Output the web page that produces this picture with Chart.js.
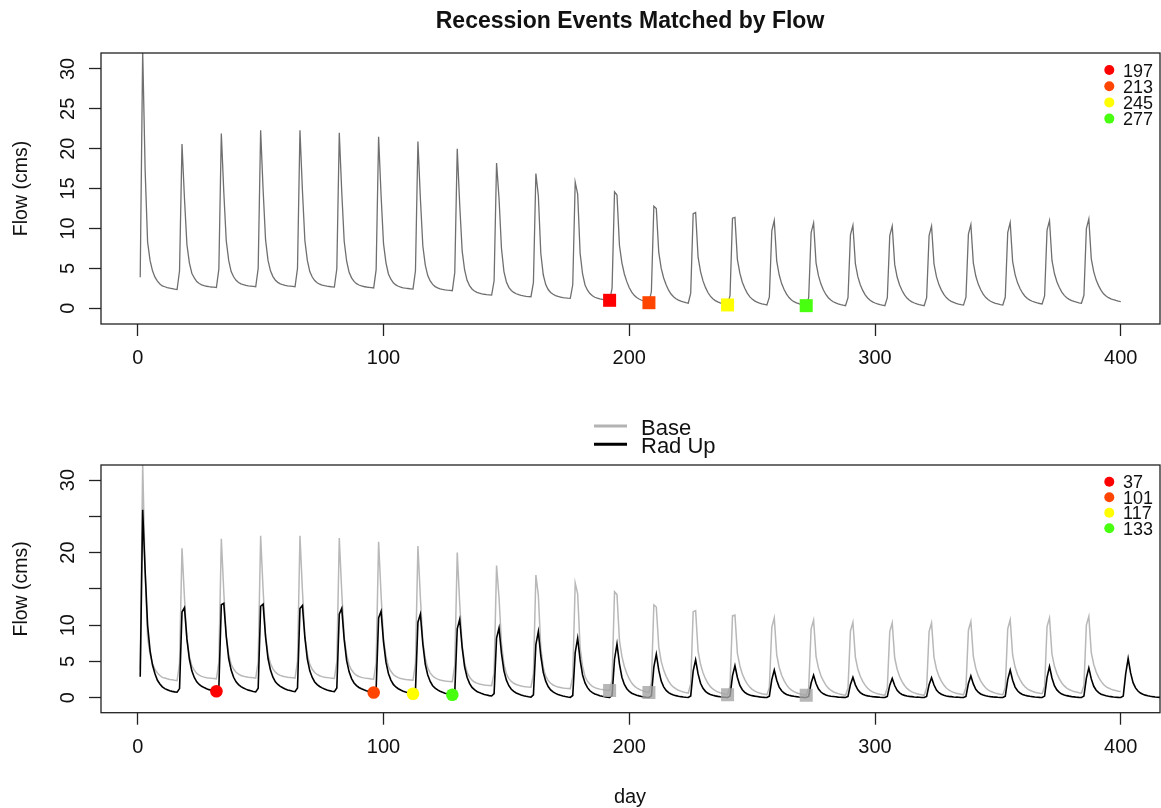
<!DOCTYPE html>
<html lang="en">
<head>
<meta charset="utf-8">
<title>Recession Events Matched by Flow</title>
<script src="https://cdn.jsdelivr.net/npm/chart.js"></script>
<style>
  html, body { margin: 0; padding: 0; background: #fff; }
  #wrap { position: relative; width: 1161px; height: 808px; overflow: hidden; }
  canvas { position: absolute; left: 0; }
  #topChart { top: 0; }
  #bottomChart { top: 400px; }
</style>
</head>
<body>
<div id="wrap">
  <canvas id="topChart" width="1161" height="400"></canvas>
  <canvas id="bottomChart" width="1161" height="408"></canvas>
</div>
<script>
// daily flow (cms), base run, day 1..400 -- one row per 16-day cycle
const baseFlow = [
  3.9, 32.3, 17.3, 8.3, 6.0, 4.7, 3.9, 3.4, 3.05, 2.8, 2.7, 2.6, 2.52, 2.46, 2.4, 2.35,
  4.7, 20.6, 13.8, 8.0, 5.7, 4.4, 3.8, 3.35, 3.1, 2.94, 2.83, 2.76, 2.71, 2.67, 2.64, 2.6,
  4.9, 21.9, 14.6, 8.5, 6.0, 4.6, 3.95, 3.51, 3.24, 3.06, 2.95, 2.87, 2.82, 2.78, 2.74, 2.7,
  5.0, 22.3, 14.9, 8.6, 6.0, 4.7, 3.97, 3.52, 3.25, 3.07, 2.95, 2.88, 2.82, 2.78, 2.74, 2.7,
  5.0, 22.3, 14.8, 8.5, 6.0, 4.6, 3.92, 3.47, 3.2, 3.02, 2.9, 2.83, 2.77, 2.73, 2.69, 2.65,
  4.95, 22.0, 14.6, 8.4, 5.9, 4.5, 3.81, 3.37, 3.09, 2.92, 2.8, 2.73, 2.67, 2.63, 2.59, 2.55,
  4.85, 21.5, 14.2, 8.1, 5.7, 4.3, 3.64, 3.2, 2.93, 2.76, 2.65, 2.57, 2.52, 2.48, 2.44, 2.4,
  4.7, 20.9, 13.8, 7.8, 5.4, 4.1, 3.42, 2.99, 2.72, 2.56, 2.44, 2.37, 2.31, 2.27, 2.24, 2.2,
  4.5, 20.0, 13.0, 7.2, 4.8, 3.5, 2.84, 2.42, 2.16, 2.0, 1.89, 1.82, 1.76, 1.72, 1.69, 1.65,
  3.45, 18.2, 13.8, 7.5, 4.6, 3.3, 2.62, 2.24, 1.99, 1.82, 1.7, 1.62, 1.55, 1.5, 1.47, 1.45,
  3.25, 16.9, 14.1, 6.9, 4.2, 2.97, 2.35, 1.99, 1.75, 1.59, 1.48, 1.41, 1.34, 1.3, 1.27, 1.25,
  2.95, 15.8, 14.3, 6.9, 4.3, 2.92, 2.26, 1.84, 1.56, 1.38, 1.27, 1.18, 1.12, 1.06, 1.03, 1.0,
  2.5, 14.6, 14.2, 7.9, 5.7, 4.3, 3.34, 2.58, 2.02, 1.63, 1.35, 1.16, 1.01, 0.88, 0.78, 0.7,
  2.1, 12.8, 12.5, 7.0, 5.0, 3.8, 2.94, 2.27, 1.79, 1.45, 1.2, 1.03, 0.9, 0.79, 0.7, 0.63,
  1.9, 11.85, 12.0, 6.4, 4.6, 3.43, 2.62, 1.98, 1.52, 1.2, 0.96, 0.8, 0.67, 0.57, 0.49, 0.42,
  1.6, 11.3, 11.4, 6.1, 4.4, 3.27, 2.5, 1.9, 1.46, 1.15, 0.93, 0.77, 0.65, 0.55, 0.48, 0.41,
  1.4, 9.7, 11.0, 5.9, 4.2, 3.1, 2.36, 1.77, 1.34, 1.05, 0.83, 0.68, 0.57, 0.47, 0.39, 0.33,
  1.33, 9.5, 10.7, 5.7, 4.06, 3.03, 2.3, 1.73, 1.32, 1.03, 0.82, 0.67, 0.56, 0.47, 0.39, 0.33,
  1.33, 9.2, 10.4, 5.6, 3.96, 2.95, 2.24, 1.69, 1.29, 1.0, 0.8, 0.66, 0.55, 0.46, 0.39, 0.33,
  1.33, 9.1, 10.3, 5.5, 3.92, 2.92, 2.22, 1.68, 1.28, 1.0, 0.8, 0.66, 0.55, 0.46, 0.39, 0.33,
  1.33, 9.1, 10.3, 5.55, 3.96, 2.97, 2.28, 1.74, 1.34, 1.06, 0.87, 0.73, 0.62, 0.53, 0.46, 0.4,
  1.4, 9.3, 10.5, 5.7, 4.04, 3.03, 2.33, 1.77, 1.37, 1.09, 0.88, 0.74, 0.63, 0.54, 0.47, 0.41,
  1.41, 9.5, 10.75, 5.85, 4.22, 3.19, 2.48, 1.92, 1.51, 1.22, 1.02, 0.88, 0.76, 0.67, 0.6, 0.54,
  1.54, 9.8, 11.0, 6.0, 4.36, 3.33, 2.6, 2.03, 1.62, 1.33, 1.12, 0.97, 0.86, 0.77, 0.69, 0.63,
  1.63, 10.0, 11.2, 6.2, 4.57, 3.53, 2.81, 2.24, 1.82, 1.53, 1.33, 1.18, 1.07, 0.98, 0.9, 0.84
];

// daily flow (cms), "Rad Up" run, day 1..420
const radUpFlow = [
  2.9, 25.9, 17.5, 10.0, 6.5, 4.5, 3.3, 2.4, 1.9, 1.5, 1.25, 1.1, 0.95, 0.87, 0.8, 0.75,
  1.25, 11.8, 12.4, 8.1, 5.3, 3.7, 2.78, 2.18, 1.82, 1.57, 1.39, 1.24, 1.11, 1.02, 0.94, 0.88,
  1.4, 12.8, 13.0, 8.5, 5.4, 3.8, 2.81, 2.18, 1.8, 1.53, 1.34, 1.18, 1.04, 0.95, 0.86, 0.8,
  1.3, 12.6, 12.9, 8.4, 5.4, 3.8, 2.82, 2.19, 1.82, 1.55, 1.36, 1.2, 1.07, 0.98, 0.89, 0.83,
  1.33, 12.3, 12.7, 8.3, 5.3, 3.7, 2.79, 2.17, 1.8, 1.54, 1.35, 1.2, 1.07, 0.97, 0.89, 0.83,
  1.33, 11.5, 12.3, 8.0, 5.1, 3.56, 2.63, 2.03, 1.67, 1.41, 1.23, 1.08, 0.95, 0.86, 0.78, 0.72,
  1.2, 11.0, 11.9, 7.7, 4.9, 3.33, 2.42, 1.83, 1.48, 1.23, 1.05, 0.9, 0.78, 0.69, 0.61, 0.55,
  1.0, 10.4, 11.5, 7.4, 4.6, 3.12, 2.23, 1.65, 1.31, 1.07, 0.89, 0.74, 0.62, 0.53, 0.46, 0.4,
  0.8, 9.5, 10.8, 6.9, 4.25, 2.82, 1.97, 1.42, 1.1, 0.86, 0.7, 0.56, 0.44, 0.36, 0.28, 0.23,
  0.55, 8.2, 9.6, 6.1, 3.7, 2.41, 1.65, 1.16, 0.86, 0.65, 0.5, 0.38, 0.27, 0.19, 0.13, 0.08,
  0.4, 7.3, 9.1, 5.75, 3.49, 2.27, 1.54, 1.07, 0.79, 0.59, 0.45, 0.33, 0.23, 0.16, 0.1, 0.05,
  0.3, 6.2, 8.2, 5.2, 3.13, 2.03, 1.38, 0.95, 0.7, 0.52, 0.39, 0.28, 0.19, 0.13, 0.07, 0.03,
  0.28, 5.3, 7.4, 4.66, 2.82, 1.83, 1.24, 0.85, 0.62, 0.46, 0.34, 0.25, 0.17, 0.11, 0.06, 0.02,
  0.25, 4.2, 6.0, 3.79, 2.29, 1.49, 1.01, 0.7, 0.51, 0.38, 0.28, 0.2, 0.14, 0.09, 0.05, 0.02,
  0.24, 3.65, 5.2, 3.28, 1.99, 1.29, 0.87, 0.6, 0.44, 0.33, 0.25, 0.18, 0.12, 0.08, 0.05, 0.02,
  0.22, 3.0, 4.4, 2.78, 1.68, 1.09, 0.74, 0.51, 0.38, 0.28, 0.21, 0.16, 0.11, 0.07, 0.04, 0.02,
  0.2, 2.5, 3.8, 2.4, 1.46, 0.95, 0.64, 0.45, 0.33, 0.25, 0.19, 0.14, 0.1, 0.07, 0.04, 0.02,
  0.18, 2.02, 3.1, 1.96, 1.19, 0.78, 0.53, 0.37, 0.27, 0.2, 0.16, 0.12, 0.08, 0.06, 0.04, 0.02,
  0.17, 1.83, 2.8, 1.77, 1.08, 0.7, 0.48, 0.33, 0.25, 0.19, 0.14, 0.11, 0.08, 0.05, 0.03, 0.02,
  0.17, 1.73, 2.65, 1.68, 1.02, 0.66, 0.45, 0.32, 0.24, 0.18, 0.14, 0.1, 0.07, 0.05, 0.03, 0.02,
  0.17, 1.8, 2.75, 1.74, 1.06, 0.69, 0.47, 0.33, 0.24, 0.18, 0.14, 0.1, 0.07, 0.05, 0.03, 0.02,
  0.18, 1.96, 3.0, 1.9, 1.15, 0.75, 0.51, 0.36, 0.26, 0.2, 0.15, 0.11, 0.08, 0.05, 0.03, 0.02,
  0.2, 2.5, 3.8, 2.4, 1.46, 0.95, 0.64, 0.45, 0.33, 0.25, 0.19, 0.14, 0.1, 0.07, 0.04, 0.02,
  0.22, 2.8, 4.3, 2.72, 1.65, 1.07, 0.73, 0.5, 0.37, 0.28, 0.21, 0.15, 0.11, 0.07, 0.04, 0.02,
  0.22, 2.7, 4.1, 2.59, 1.57, 1.02, 0.69, 0.48, 0.36, 0.27, 0.2, 0.15, 0.1, 0.07, 0.04, 0.02,
  0.22, 3.3, 5.4, 3.41, 2.07, 1.35, 0.92, 0.64, 0.47, 0.35, 0.27, 0.2, 0.14, 0.09, 0.06, 0.04,
  0.04, 0.04, 0.03, 0.03
];

const xTicks = [0, 100, 200, 300, 400];
const yTicks = [0, 5, 10, 15, 20, 25, 30];
const topYLabels = ['0', '5', '10', '15', '20', '25', '30'];
const bottomYLabels = ['0', '5', '10', '', '20', '', '30'];

// matched recession events (day of trough)
const baseEventDays = [192, 208, 240, 272];
const radUpEventDays = [32, 96, 112, 128];
const eventColors = ['#ff0000', '#ff4500', '#ffff00', '#48ff10'];
const topLegendLabels = ['197', '213', '245', '277'];
const bottomLegendLabels = ['37', '101', '117', '133'];
const seriesNames = ['Base', 'Rad Up'];

const FONT = '"Liberation Sans", Arial, Helvetica, sans-serif';
const INK = '#111';

const toPoints = flows => flows.map((v, i) => ({ x: i + 1, y: v }));
const eventPoints = (days, flows) => days.map(d => ({ x: d, y: flows[d - 1] }));

function rotText(ctx, txt, x, y) {
  ctx.save();
  ctx.translate(x, y);
  ctx.rotate(-Math.PI / 2);
  ctx.fillText(txt, 0, 0);
  ctx.restore();
}

// R-like frame, tick labels, axis title and the event legend
const rDecor = {
  id: 'rDecor',
  afterDraw(chart, args, o) {
    const { ctx, chartArea: a } = chart;
    const xs = chart.scales.x, ys = chart.scales.y;
    ctx.save();
    ctx.strokeStyle = '#222';
    ctx.lineWidth = 1.3;
    ctx.strokeRect(a.left, a.top, a.right - a.left, a.bottom - a.top);

    ctx.fillStyle = INK;
    ctx.textAlign = 'center';
    ctx.textBaseline = 'alphabetic';
    ctx.font = '20px ' + FONT;
    xTicks.forEach(v => ctx.fillText(String(v), xs.getPixelForValue(v), a.bottom + 40));
    yTicks.forEach((v, i) => rotText(ctx, o.yLabels[i], 73.5, ys.getPixelForValue(v)));
    ctx.font = '19.5px ' + FONT;
    rotText(ctx, 'Flow (cms)', 27, (a.top + a.bottom) / 2);

    ctx.textAlign = 'left';
    ctx.font = '18px ' + FONT;
    o.legendLabels.forEach((t, i) => {
      const ly = a.top + o.legendTop + i * o.legendStep;
      ctx.fillStyle = eventColors[i];
      ctx.beginPath();
      ctx.arc(1109.3, ly, 5, 0, 2 * Math.PI);
      ctx.fill();
      ctx.fillStyle = INK;
      ctx.fillText(t, 1123, ly + 6.5);
    });
    if (o.extra) o.extra(ctx, a);
    ctx.restore();
  }
};

function scales(yMin, yMax, xHeight) {
  return {
    x: {
      type: 'linear', min: -14.96, max: 415.96,
      afterBuildTicks: s => { s.ticks = xTicks.map(v => ({ value: v })); },
      afterFit: s => { s.height = xHeight; },
      ticks: { display: false },
      border: { display: false },
      grid: { drawOnChartArea: false, drawTicks: true, tickLength: 12, tickColor: '#222', tickWidth: 1.3 }
    },
    y: {
      type: 'linear', min: yMin, max: yMax,
      afterBuildTicks: s => { s.ticks = yTicks.map(v => ({ value: v })); },
      afterFit: s => { s.width = 101; },
      ticks: { display: false },
      border: { display: false },
      grid: { drawOnChartArea: false, drawTicks: true, tickLength: 12, tickColor: '#222', tickWidth: 1.3 }
    }
  };
}

const common = {
  responsive: false,
  animation: false,
  events: [],
  devicePixelRatio: 1
};

new Chart(document.getElementById('topChart'), {
  type: 'line',
  data: {
    datasets: [
      {
        data: eventPoints(baseEventDays, baseFlow), showLine: false, order: 0,
        pointStyle: 'rect', pointRadius: 9.2, pointBorderWidth: 0,
        pointBackgroundColor: eventColors
      },
      {
        label: seriesNames[0], data: toPoints(baseFlow), order: 1,
        borderColor: '#6f6f6f', borderWidth: 1.3, pointRadius: 0, tension: 0, fill: false
      }
    ]
  },
  options: Object.assign({}, common, {
    layout: { autoPadding: false, padding: { top: 53, right: 1, bottom: 0, left: 0 } },
    scales: scales(-1.97, 32.0, 76),
    plugins: {
      legend: { display: false },
      tooltip: { enabled: false },
      rDecor: {
        yLabels: topYLabels, legendLabels: topLegendLabels, legendTop: 17, legendStep: 16.2,
        extra: ctx => {
          ctx.fillStyle = INK;
          ctx.textAlign = 'center';
          ctx.font = 'bold 23px ' + FONT;
          ctx.fillText('Recession Events Matched by Flow', 630, 28);
        }
      }
    }
  }),
  plugins: [rDecor]
});

new Chart(document.getElementById('bottomChart'), {
  type: 'line',
  data: {
    datasets: [
      {
        data: eventPoints(radUpEventDays, radUpFlow), showLine: false, order: 0,
        pointStyle: 'circle', pointRadius: 6.3, pointBorderWidth: 0,
        pointBackgroundColor: eventColors
      },
      {
        data: eventPoints(baseEventDays, baseFlow), showLine: false, order: 1,
        pointStyle: 'rect', pointRadius: 9.2, pointBorderWidth: 0,
        pointBackgroundColor: 'rgba(165,165,165,0.8)'
      },
      {
        label: seriesNames[1], data: toPoints(radUpFlow), order: 2,
        borderColor: '#000', borderWidth: 1.6, pointRadius: 0, tension: 0, fill: false
      },
      {
        label: seriesNames[0], data: toPoints(baseFlow), order: 3,
        borderColor: '#b8b8b8', borderWidth: 1.5, pointRadius: 0, tension: 0, fill: false
      }
    ]
  },
  options: Object.assign({}, common, {
    layout: { autoPadding: false, padding: { top: 65, right: 1, bottom: 0, left: 0 } },
    scales: scales(-2.07, 32.07, 95.3),
    plugins: {
      legend: { display: false },
      tooltip: { enabled: false },
      rDecor: {
        yLabels: bottomYLabels, legendLabels: bottomLegendLabels, legendTop: 16.7, legendStep: 15.5,
        extra: ctx => {
          // series legend between the panels
          ctx.lineWidth = 3;
          ctx.strokeStyle = '#b3b3b3';
          ctx.beginPath(); ctx.moveTo(594, 26); ctx.lineTo(627, 26); ctx.stroke();
          ctx.strokeStyle = '#000';
          ctx.beginPath(); ctx.moveTo(594, 44.3); ctx.lineTo(627, 44.3); ctx.stroke();
          ctx.fillStyle = INK;
          ctx.textAlign = 'left';
          ctx.font = '22px ' + FONT;
          ctx.fillText(seriesNames[0], 641, 35);
          ctx.fillText(seriesNames[1], 641, 53);
          ctx.textAlign = 'center';
          ctx.font = '20px ' + FONT;
          ctx.fillText('day', 630, 403);
        }
      }
    }
  }),
  plugins: [rDecor]
});
</script>
</body>
</html>
